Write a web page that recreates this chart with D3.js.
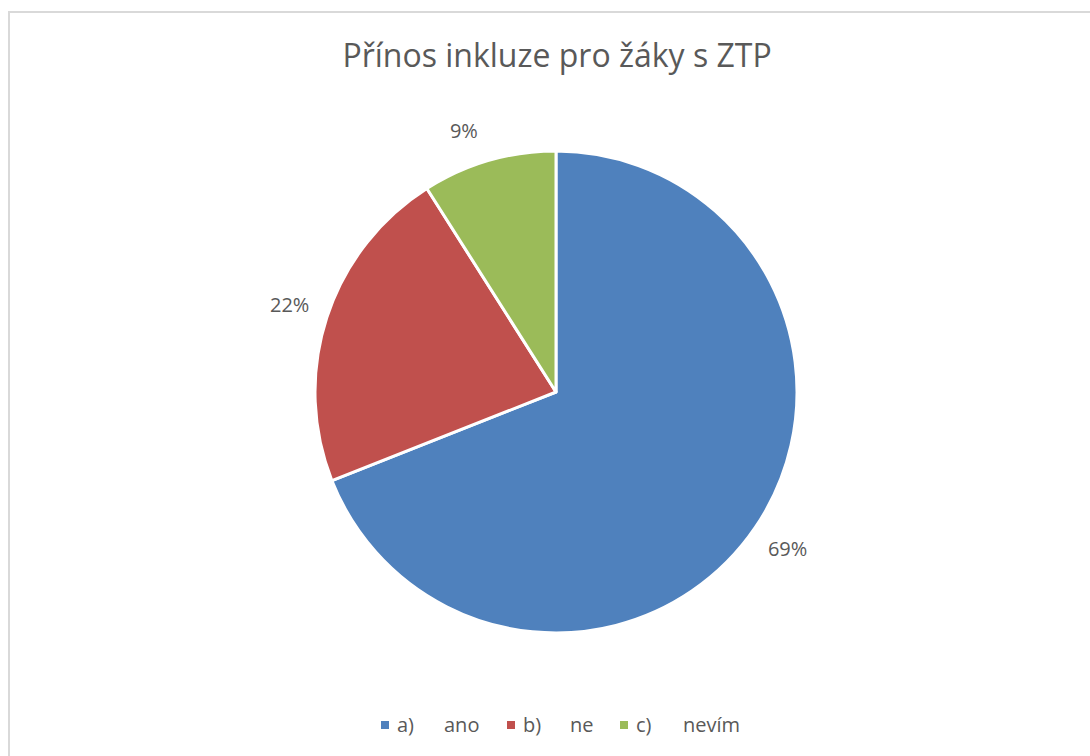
<!DOCTYPE html>
<html>
<head>
<meta charset="utf-8">
<script src="https://cdn.jsdelivr.net/npm/d3@7"></script>
<style>
  html, body { margin: 0; padding: 0; background: #fff; }
  svg { display: block; }
  text { font-family: "Open Sans", "Noto Sans", sans-serif; fill: #595959; }
</style>
</head>
<body>
<svg id="chart" width="1090" height="756"></svg>
<script>
const title = "Přínos inkluze pro žáky s ZTP";
const categories = ["a)", "b)", "c)"];
const categoryNames = ["ano", "ne", "nevím"];
const values = [69, 22, 9];
const colors = ["#4F81BD", "#C0504D", "#9BBB59"];

const svg = d3.select("#chart");
const W = 1090, H = 756;

// chart area border
svg.append("rect")
  .attr("x", 9).attr("y", 12)
  .attr("width", W + 20).attr("height", H + 20)
  .attr("fill", "#fff")
  .attr("stroke", "#d9d9d9").attr("stroke-width", 2);

svg.append("text")
  .attr("x", 557).attr("y", 67)
  .attr("text-anchor", "middle")
  .attr("font-size", 32)
  .text(title);

const cx = 556, cy = 392, R = 241;
const g = svg.append("g").attr("transform", `translate(${cx},${cy})`);

const pie = d3.pie().value(d => d).sort(null);
const arcs = pie(values);
const arc = d3.arc().innerRadius(0).outerRadius(R);
const labelArc = d3.arc().innerRadius(280).outerRadius(280);

g.selectAll("path.slice").data(arcs).enter().append("path")
  .attr("class", "slice")
  .attr("d", arc)
  .attr("fill", (d, i) => colors[i])
  .attr("stroke", "#fff")
  .attr("stroke-width", 3)
  .attr("stroke-linejoin", "round");

const total = d3.sum(values);
g.selectAll("text.lbl").data(arcs).enter().append("text")
  .attr("class", "lbl")
  .attr("transform", d => {
    const [x, y] = labelArc.centroid(d);
    // small-slice label nudged toward its slice, as in the original layout
    const adj = d.index === 2 ? [-14, 8] : [0, 0];
    return `translate(${x + adj[0]},${y + adj[1]})`;
  })
  .attr("text-anchor", "middle")
  .attr("dy", "0.35em")
  .attr("font-size", 20)
  .text(d => Math.round(d.value / total * 100) + "%");

// legend
const legendX = [381, 507, 620];
const leg = svg.append("g");
categories.forEach((c, i) => {
  const x = legendX[i];
  leg.append("rect")
    .attr("x", x).attr("y", 721)
    .attr("width", 8).attr("height", 8)
    .attr("fill", colors[i]);
  leg.append("text")
    .attr("x", x + 16).attr("y", 732)
    .attr("font-size", 20)
    .text(c);
  leg.append("text")
    .attr("x", x + 63).attr("y", 732)
    .attr("font-size", 20)
    .text(categoryNames[i]);
});
</script>
</body>
</html>
